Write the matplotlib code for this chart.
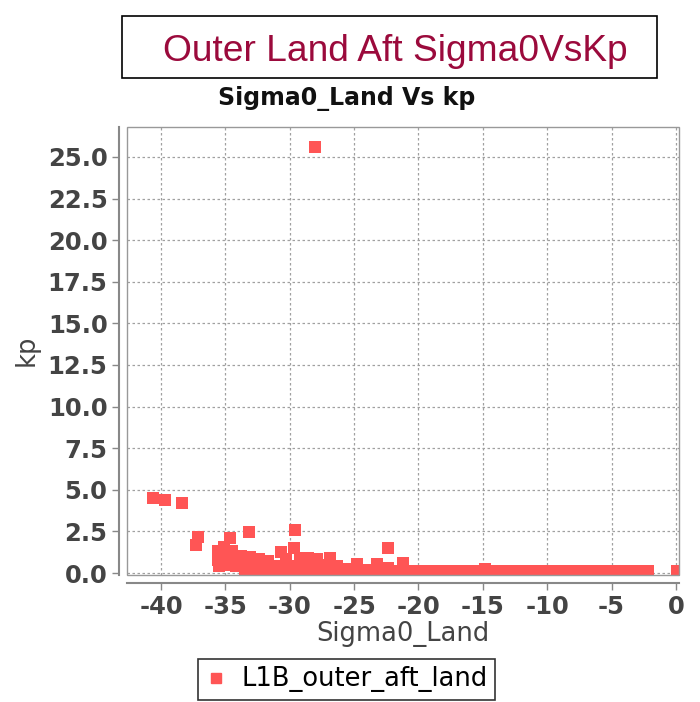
"""Outer land aft Sigma0 vs kp scatter, JFreeChart-like styling."""

import matplotlib
matplotlib.use("Agg")
import matplotlib.pyplot as plt
from matplotlib.lines import Line2D
from matplotlib.patches import Rectangle
from matplotlib.ticker import FormatStrFormatter

plt.rcParams["axes.unicode_minus"] = False

# isolated / high kp samples
sigma0_high = [-28.0, -40.6, -39.7, -38.4, -37.1, -37.3, -34.6, -33.2, -29.6, -22.4]
kp_high = [25.6, 4.5, 4.4, 4.2, 2.15, 1.7, 2.1, 2.45, 2.6, 1.5]

# dense cluster between -36 and -21
sigma0_mid = [-35.6, -35.6, -35.5, -35.1, -35.0, -34.9, -34.5, -34.4, -34.2,
              -33.8, -33.1, -32.4, -31.7, -31.2, -33.6, -32.8, -32.0, -33.4, -32.6,
              -31.9, -31.4, -30.9,
              -30.7, -30.3, -29.7, -29.2, -29.7, -30.5, -29.0, -30.0,
              -28.6, -27.9, -28.2, -27.5, -28.9, -27.2,
              -26.9, -26.3, -25.5, -24.8, -24.0, -23.2, -22.4, -21.2, -14.8, 0.05]
kp_mid = [1.3, 0.8, 0.45, 1.55, 1.0, 0.5, 1.35, 0.85, 0.45,
          1.0, 0.95, 0.85, 0.7, 0.45, 0.5, 0.4, 0.3, 0.6, 0.55,
          0.45, 0.3, 0.4,
          1.25, 0.85, 1.5, 0.9, 0.3, 0.35, 0.45, 0.4,
          0.9, 0.85, 0.45, 0.5, 0.5, 0.3,
          0.92, 0.45, 0.25, 0.55, 0.2, 0.55, 0.3, 0.62, 0.25, 0.12]

# low kp band running towards 0 dB
sigma0_band = [-33.5, -32.7, -31.9, -31.1, -30.3, -29.5, -28.7, -27.9, -27.1, -26.3,
               -25.5, -24.7, -23.9, -23.1, -22.3, -21.5, -20.7, -19.9, -19.1, -18.3,
               -17.5, -16.7, -15.9, -15.1, -14.3, -13.5, -12.7, -11.9, -11.1, -10.3,
               -9.5, -8.7, -7.9, -7.1, -6.3, -5.5, -4.7, -3.9, -3.1, -2.2]
kp_band = [0.15, 0.12, 0.14, 0.1, 0.13, 0.12, 0.15, 0.11, 0.14, 0.12,
           0.13, 0.1, 0.14, 0.12, 0.11, 0.15, 0.13, 0.12, 0.14, 0.11,
           0.13, 0.12, 0.1, 0.14, 0.12, 0.11, 0.13, 0.12, 0.1, 0.13,
           0.12, 0.11, 0.14, 0.12, 0.1, 0.13, 0.12, 0.11, 0.12, 0.13]

x_ticks = [-40, -35, -30, -25, -20, -15, -10, -5, 0]
y_ticks = [0.0, 2.5, 5.0, 7.5, 10.0, 12.5, 15.0, 17.5, 20.0, 22.5, 25.0]

RED = "#FF5555"
GREY_TXT = "#444444"

fig = plt.figure(figsize=(7.0, 7.02), dpi=100)
ax = fig.add_axes([0.1814, 0.1816, 0.7879, 0.6375])

sigma0 = sigma0_high + sigma0_mid + sigma0_band
kp = kp_high + kp_mid + kp_band
ax.scatter(sigma0, kp, s=64, marker="s", color=RED, linewidths=0, zorder=3)

ax.set_xlim(-42.64, 0.2)
ax.set_ylim(-0.09, 26.8)
ax.set_xticks(x_ticks)
ax.set_yticks(y_ticks)
ax.yaxis.set_major_formatter(FormatStrFormatter("%.1f"))

# plot border + offset axis lines
for side in ("top", "right"):
    ax.spines[side].set_visible(False)
for side in ("left", "bottom"):
    ax.spines[side].set_position(("outward", 6))
    ax.spines[side].set_color("#888888")
    ax.spines[side].set_linewidth(1.5)
ax.add_patch(Rectangle((0, 0), 1, 1, transform=ax.transAxes, fill=False,
                       edgecolor="#999999", linewidth=1.0, clip_on=False, zorder=4))

ax.grid(True, color="#a0a0a0", linestyle=(0, (2, 2)), linewidth=0.9)
ax.set_axisbelow(True)
ax.tick_params(direction="out", length=5, width=1, color="#888888",
               labelsize=17.5, labelcolor=GREY_TXT)
ax.tick_params(axis="x", pad=4)
ax.tick_params(axis="y", pad=3)
for lbl in ax.get_xticklabels() + ax.get_yticklabels():
    lbl.set_fontweight("bold")

ax.set_xlabel("Sigma0_Land", fontsize=18.5, color=GREY_TXT, labelpad=1)
ax.set_ylabel("kp", fontsize=18.5, color=GREY_TXT, labelpad=6)

# titles
fig.text(346.5 / 700, 1 - 105 / 702, "Sigma0_Land Vs kp", fontsize=17,
         fontweight="bold", ha="center", va="baseline", color="#111111")
fig.text(395 / 700, 1 - 61 / 702, "Outer Land Aft Sigma0VsKp", fontsize=26.7,
         family="Liberation Sans", ha="center", va="baseline", color="#9B0A3C")
fig.add_artist(Rectangle((122 / 700, 1 - 78 / 702), 535 / 700, 62 / 702,
                         transform=fig.transFigure, fill=False,
                         edgecolor="black", linewidth=1.2))

handle = Line2D([], [], marker="s", linestyle="none", color=RED, markersize=7)
leg = fig.legend(handles=[handle], labels=["L1B_outer_aft_land"], loc="center",
                 bbox_to_anchor=(0.495, 1 - 679.5 / 702), frameon=True,
                 fancybox=False, edgecolor="black", fontsize=18.5,
                 handlelength=0.8, handletextpad=0.6, borderpad=0.3)
leg.get_frame().set_linewidth(1.2)

fig.savefig("out.png", dpi=100)
